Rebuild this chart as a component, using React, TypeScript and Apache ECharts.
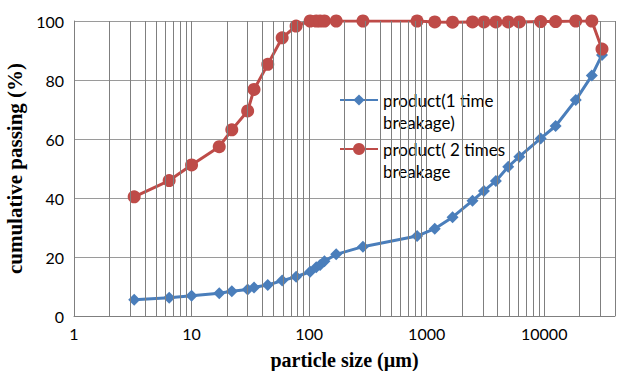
import React, { useEffect, useRef } from "react";
import * as echarts from "echarts";

const particleSizes = [3.25, 6.45, 10, 17.2, 22, 30, 34, 44.5, 59, 77.5, 102, 115, 124, 135, 170, 287, 829, 1172, 1660, 2455, 3070, 3880, 4940, 6140, 9330, 12500, 18540, 25400, 31000];
const oneTime = [5.5, 6.2, 6.9, 7.7, 8.4, 9.0, 9.7, 10.5, 12, 13.3, 15, 16.5, 17.3, 18.6, 20.9, 23.5, 27.1, 29.6, 33.5, 39.1, 42.4, 45.8, 50.6, 54, 60.2, 64.4, 73.2, 81.5, 88.5];
const twoTimes = [40.4, 45.9, 51.2, 57.4, 63.1, 69.5, 76.8, 85.3, 94.3, 98.3, 100, 100, 100, 100, 100, 100, 100, 99.7, 99.6, 99.7, 99.7, 99.7, 99.7, 99.7, 99.8, 99.8, 100, 100, 90.5];
const minorGridValues = [2, 3, 4, 5, 6, 7, 8, 9, 20, 30, 40, 50, 60, 70, 80, 90, 200, 300, 400, 500, 600, 700, 800, 900, 2000, 3000, 4000, 5000, 6000, 7000, 8000, 9000, 20000, 30000, 40000];
const seriesNames = ["product(1 time breakage)", "product( 2 times breakage"];
const xTitle = "particle size (µm)";
const yTitle = "cumulative passing (%)";

const BLUE = "#4a7ebb";
const RED = "#be4b48";
const VGRID = "#7f7f7f";
const HGRID = "#9a9a9a";

export default function App() {
  const ref = useRef<HTMLDivElement>(null);
  useEffect(() => {
    if (!ref.current) return;
    const chart = echarts.init(ref.current, null, { renderer: "svg" });
    const legendText = {
      fontFamily: "Lato",
      fontSize: 17,
      color: "#000",
      lineHeight: 22,
    };
    // a blank first line keeps the first text line level with the legend icon
    const fmt = (name: string) => " \n" + name.replace(" breakage", "\nbreakage");
    chart.setOption({
      animation: false,
      backgroundColor: "#fff",
      grid: { left: 74, right: 12, top: 21, bottom: 55, containLabel: false, outerBoundsMode: "none" },
      legend: [
        {
          data: [seriesNames[0]],
          left: 339,
          top: 67,
          padding: 0,
          itemWidth: 38,
          itemHeight: 14,
          formatter: fmt,
          textStyle: legendText,
          selectedMode: false,
        },
        {
          data: [seriesNames[1]],
          left: 339,
          top: 116,
          padding: 0,
          itemWidth: 38,
          itemHeight: 15,
          formatter: fmt,
          textStyle: legendText,
          selectedMode: false,
        },
      ],
      xAxis: {
        type: "log",
        logBase: 10,
        min: 1,
        max: 40000,
        name: xTitle,
        nameLocation: "middle",
        nameGap: 34,
        nameTextStyle: { fontFamily: "Liberation Serif", fontWeight: "bold", fontSize: 20, color: "#000" },
        axisLine: { show: true, lineStyle: { color: VGRID, width: 1 } },
        axisTick: { show: false },
        axisLabel: {
          fontFamily: "Lato",
          fontSize: 16,
          color: "#000",
          margin: 9,
          showMaxLabel: false,
          formatter: (v: number) => String(Math.round(v)),
        },
        splitLine: { show: true, lineStyle: { color: VGRID, width: 1 } },
      },
      yAxis: {
        type: "value",
        min: 0,
        max: 100,
        interval: 20,
        name: yTitle,
        nameLocation: "middle",
        nameGap: 43,
        nameTextStyle: { fontFamily: "Liberation Serif", fontWeight: "bold", fontSize: 21, color: "#000" },
        axisLine: { show: true, lineStyle: { color: VGRID, width: 1 } },
        axisTick: { show: false },
        axisLabel: { fontFamily: "Lato", fontSize: 16, color: "#000", margin: 10 },
        splitLine: { show: true, lineStyle: { color: HGRID, width: 1 } },
      },
      series: [
        {
          name: "minor-grid",
          type: "line",
          data: [],
          silent: true,
          z: 1,
          markLine: {
            silent: true,
            symbol: ["none", "none"],
            label: { show: false },
            lineStyle: { color: VGRID, width: 1, type: "solid" },
            emphasis: { disabled: true },
            data: minorGridValues.map((v) => ({ xAxis: v })),
          },
        },
        {
          name: seriesNames[0],
          type: "line",
          z: 3,
          data: particleSizes.map((x, i) => [x, oneTime[i]]),
          symbol: "diamond",
          symbolSize: 12,
          lineStyle: { color: BLUE, width: 3 },
          itemStyle: { color: BLUE },
        },
        {
          name: seriesNames[1],
          type: "line",
          z: 4,
          data: particleSizes.map((x, i) => [x, twoTimes[i]]),
          symbol: "circle",
          symbolSize: 13,
          lineStyle: { color: RED, width: 3 },
          itemStyle: { color: RED },
        },
      ],
    });
    return () => chart.dispose();
  }, []);
  return (
    <div
      ref={ref}
      style={{ position: "fixed", left: 0, top: 0, width: 627, height: 371, background: "#fff" }}
    />
  );
}
